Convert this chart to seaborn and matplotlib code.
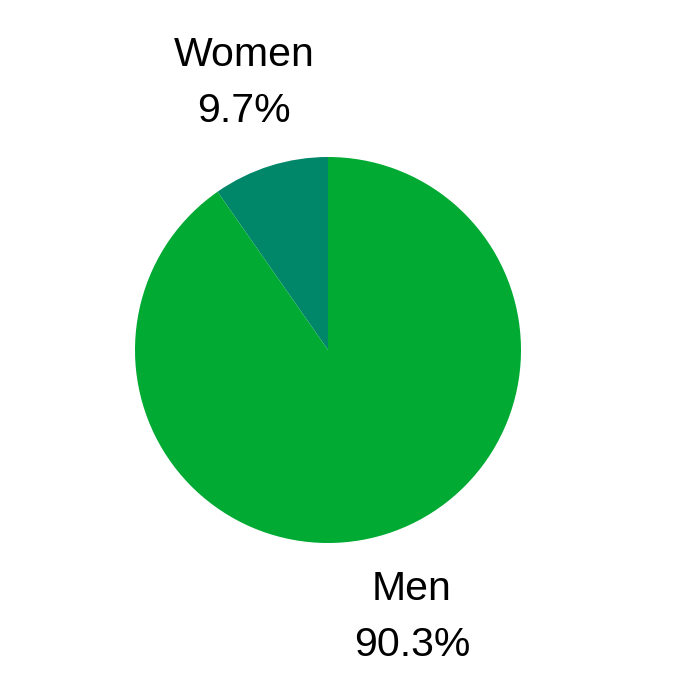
import matplotlib
matplotlib.use('Agg')
import matplotlib.pyplot as plt
import seaborn as sns

groups = ['Women', 'Men']
shares = [9.7, 90.3]
colors = ['#00876A', '#00AA33']

sns.set_theme(style='white')
plt.rcParams['font.family'] = ['Liberation Sans', 'DejaVu Sans']

fig = plt.figure(figsize=(6.87, 6.98), dpi=100)
ax = fig.add_axes([0, 0, 1, 1])

labels = [f'{g}\n{s}%' for g, s in zip(groups, shares)]
wedges, texts = ax.pie(shares, labels=labels, colors=colors, startangle=90,
                       counterclock=True, labeldistance=1.45,
                       wedgeprops={'linewidth': 0},
                       textprops={'fontsize': 29.5, 'color': 'black'})
for t in texts:
    t.set_ha('center')
    t.set_va('center')
    t.set_linespacing(1.6)

# pie radius ~193 px, centre at (328, 350) px
r = 193
ax.set_xlim(-328 / r, (687 - 328) / r)
ax.set_ylim(-(698 - 350) / r, 350 / r)
ax.set_aspect('auto')
ax.axis('off')

plt.savefig('out.png', dpi=100, facecolor='white')
